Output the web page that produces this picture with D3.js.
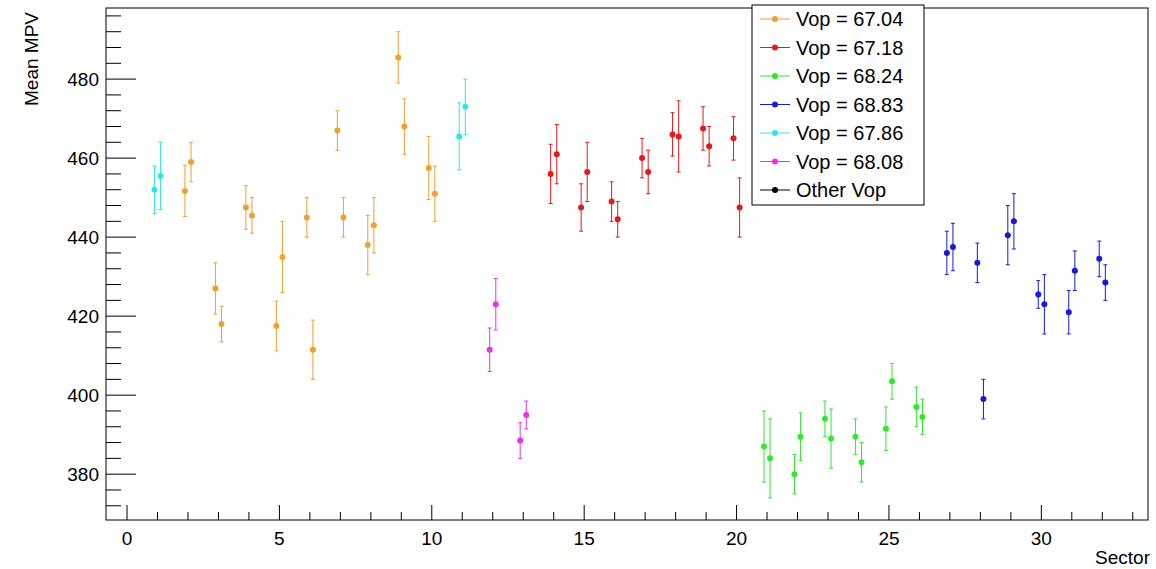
<!DOCTYPE html>
<html lang="en">
<head>
<meta charset="UTF-8">
<title>Mean MPV per sector</title>
<script src="https://d3js.org/d3.v7.min.js"></script>
<style>
  body { margin: 0; background: #fff; }
  text { font-family: "Liberation Sans", Arial, sans-serif; }
</style>
</head>
<body>
<svg width="1156" height="569"></svg>
<script>
    // each sector has two points, at sector-0.1 and sector+0.1
    var sectors = d3.range(1, 33);
    var mpvA = [452, 451.7, 427, 447.5, 417.5, 445, 467, 438, 485.5, 457.5, 465.5, 411.5, 388.5, 456, 447.5, 449,
                460, 466, 467.5, 465, 387, 380, 394, 389.5, 391.5, 397, 436, 433.5, 440.5, 425.5, 421, 434.5];
    var errA = [6, 6.5, 6.5, 5.5, 6.3, 5, 5, 7.5, 6.5, 8, 8.5, 5.5, 4.5, 7.5, 6, 5, 5, 5.5, 5.5, 5.5, 9, 5,
                4.5, 4.5, 5.5, 5, 5.5, 5, 7.5, 3.5, 5.5, 4.5];
    var mpvB = [455.5, 459, 418, 445.5, 435, 411.5, 445, 443, 468, 451, 473, 423, 395, 461, 456.5, 444.5,
                456.5, 465.5, 463, 447.5, 384, 389.5, 389, 383, 403.5, 394.5, 437.5, 399, 444, 423, 431.5, 428.5];
    var errB = [8.5, 5, 4.5, 4.5, 9, 7.5, 5, 7, 7, 7, 7, 6.5, 3.5, 7.5, 7.5, 4.5, 5.5, 9, 5, 7.5, 10, 6,
                7.5, 5, 4.5, 4.5, 6, 5, 7, 7.5, 5, 4.5];
    // which Vop group each sector belongs to
    var sectorGroup = [4, 0, 0, 0, 0, 0, 0, 0, 0, 0, 4, 5, 5, 1, 1, 1, 1, 1, 1, 1, 2, 2, 2, 2, 2, 2, 3, 3, 3, 3, 3, 3];
    var legendLabels = ["Vop = 67.04", "Vop = 67.18", "Vop = 68.24", "Vop = 68.83", "Vop = 67.86", "Vop = 68.08", "Other Vop"];
    var colors = ["#eea030", "#e31a1a", "#33e633", "#1a1ad6", "#33e6e6", "#e633e6", "#000000"];
    var xTicks = [0, 5, 10, 15, 20, 25, 30];
    var yTicks = [380, 400, 420, 440, 460, 480];

    var svg = d3.select("svg"),
        pLeft = 106, pRight = 1148, pTop = 8, pBottom = 520;

    var x = d3.scaleLinear().domain([-0.69, 33.5]).range([pLeft, pRight]);
    var y = d3.scaleLinear().domain([368.4, 498]).range([pBottom, pTop]);

    var points = [];
    sectors.forEach(function (s, i) {
        points.push({x: s - 0.1, v: mpvA[i], e: errA[i], g: sectorGroup[i]});
        points.push({x: s + 0.1, v: mpvB[i], e: errB[i], g: sectorGroup[i]});
    });

    // frame
    svg.append("rect").attr("x", pLeft).attr("y", pTop).attr("width", pRight - pLeft).attr("height", pBottom - pTop)
        .attr("fill", "none").attr("stroke", "#000").attr("stroke-width", 1);

    // x ticks (pointing up)
    var xMinor = d3.range(0, 34);
    svg.selectAll(".xmin").data(xMinor).enter().append("line")
        .attr("x1", function (d) { return x(d); }).attr("x2", function (d) { return x(d); })
        .attr("y1", pBottom).attr("y2", function (d) { return d % 5 === 0 ? pBottom - 15 : pBottom - 8; })
        .attr("stroke", "#000");
    svg.selectAll(".xlab").data(xTicks).enter().append("text")
        .attr("x", function (d) { return x(d); }).attr("y", pBottom + 25)
        .attr("text-anchor", "middle").attr("font-size", 19).text(function (d) { return d; });

    // y ticks (pointing right)
    var yMinor = d3.range(372, 498, 4);
    svg.selectAll(".ymin").data(yMinor).enter().append("line")
        .attr("y1", function (d) { return y(d); }).attr("y2", function (d) { return y(d); })
        .attr("x1", pLeft).attr("x2", function (d) { return d % 20 === 0 ? pLeft + 30 : pLeft + 15; })
        .attr("stroke", "#000");
    svg.selectAll(".ylab").data(yTicks).enter().append("text")
        .attr("x", pLeft - 7).attr("y", function (d) { return y(d) + 7; })
        .attr("text-anchor", "end").attr("font-size", 19).text(function (d) { return d; });

    // axis titles
    svg.append("text").attr("x", pRight + 2).attr("y", 564).attr("text-anchor", "end")
        .attr("font-size", 19).text("Sector");
    svg.append("text").attr("transform", "translate(38,12) rotate(-90)").attr("text-anchor", "end")
        .attr("font-size", 19).text("Mean MPV");

    // error bars
    var pts = svg.append("g");
    points.forEach(function (p) {
        var c = colors[p.g], px = x(p.x);
        pts.append("line").attr("x1", px).attr("x2", px).attr("y1", y(p.v - p.e)).attr("y2", y(p.v + p.e))
            .attr("stroke", c).attr("stroke-width", 1);
        [p.v - p.e, p.v + p.e].forEach(function (yy) {
            pts.append("line").attr("x1", px - 2).attr("x2", px + 2).attr("y1", y(yy)).attr("y2", y(yy))
                .attr("stroke", c).attr("stroke-width", 1);
        });
        pts.append("circle").attr("cx", px).attr("cy", y(p.v)).attr("r", 3).attr("fill", c);
    });

    // legend
    var lg = svg.append("g").attr("transform", "translate(752,5)");
    lg.append("rect").attr("width", 172).attr("height", 200).attr("fill", "#fff").attr("stroke", "#000");
    legendLabels.forEach(function (t, i) {
        var ly = 14 + i * 28.5;
        lg.append("line").attr("x1", 8).attr("x2", 38).attr("y1", ly).attr("y2", ly).attr("stroke", colors[i]);
        lg.append("circle").attr("cx", 23).attr("cy", ly).attr("r", 3).attr("fill", colors[i]);
        lg.append("text").attr("x", 44).attr("y", ly + 7).attr("font-size", 20).text(t);
    });
</script>
</body>
</html>
